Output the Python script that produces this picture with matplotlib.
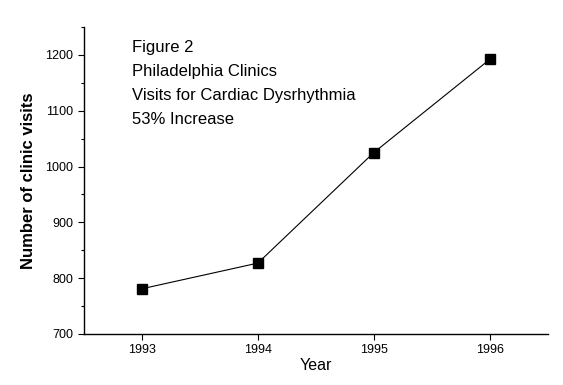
import matplotlib
matplotlib.use("Agg")
import matplotlib.pyplot as plt
from matplotlib.ticker import MultipleLocator

plt.rcParams['font.family'] = ['Liberation Sans', 'DejaVu Sans']

# Data
years = [1993, 1994, 1995, 1996]
visits = [781, 827, 1025, 1192]
year_labels = ['1993', '1994', '1995', '1996']
note_lines = ['Figure 2', 'Philadelphia Clinics',
              'Visits for Cardiac Dysrhythmia', '53% Increase']

fig = plt.figure(figsize=(5.63, 3.85), dpi=100)
ax = fig.add_axes([0.149, 0.1325, 0.824, 0.7975])

ax.plot(years, visits, color='black', linewidth=0.8, marker='s',
        markersize=7.2, markerfacecolor='black', markeredgecolor='black')

ax.set_xlim(1992.5, 1996.5)
ax.set_ylim(700, 1250)
ax.set_xticks(years)
ax.set_xticklabels(year_labels)
ax.yaxis.set_major_locator(MultipleLocator(100))
ax.yaxis.set_minor_locator(MultipleLocator(50))

for side in ['top', 'right']:
    ax.spines[side].set_visible(False)
for side in ['left', 'bottom']:
    ax.spines[side].set_linewidth(1.0)

ax.tick_params(axis='both', which='major', direction='out', length=4.5,
               width=0.8, labelsize=9, pad=3)
ax.tick_params(axis='y', which='minor', direction='out', length=2.2, width=0.8)

ax.set_xlabel('Year', fontsize=11.5, labelpad=1)
ax.set_ylabel('Number of clinic visits', fontsize=12, fontweight='bold',
              labelpad=7)

# Note text block in the upper left of the plot
for i, txt in enumerate(note_lines):
    ax.text(0.104, 0.957 - i * 0.0785, txt, transform=ax.transAxes,
            fontsize=12, va='top', ha='left')

fig.savefig('out.png', dpi=100)
